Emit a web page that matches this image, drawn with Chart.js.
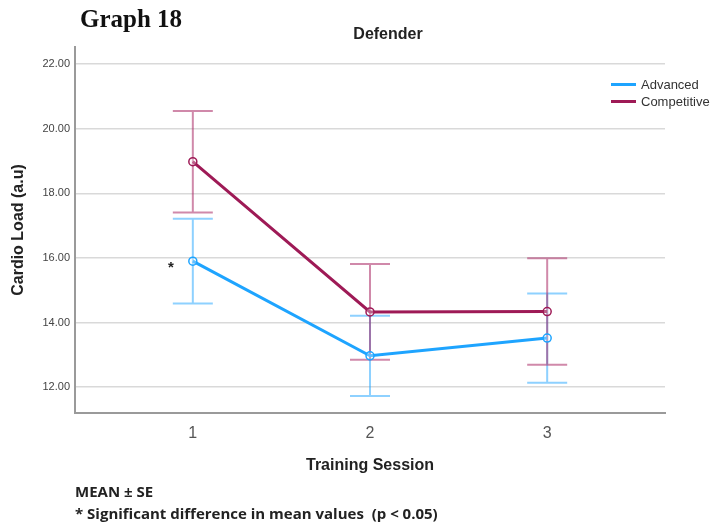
<!DOCTYPE html>
<html lang="en">
<head>
<meta charset="UTF-8">
<title>Graph 18 - Defender</title>
<script src="https://cdn.jsdelivr.net/npm/chart.js@4.4.0/dist/chart.umd.min.js"></script>
<style>
  body { margin: 0; background: #fff; }
  #wrap { position: relative; width: 712px; height: 523px; font-family: "Liberation Sans", Arial, sans-serif; }
  #wrap canvas { position: absolute; left: 0; top: 0; }
  .txt { position: absolute; white-space: nowrap; color: #222; }
  #graphNo { left: 80px; top: 5px; font-family: "Liberation Serif", "Times New Roman", serif; font-weight: bold; font-size: 25px; color: #111; }
  #title { left: 388px; top: 25px; transform: translateX(-50%); font-size: 16px; font-weight: bold; color: #222; }
  #legend { left: 611px; top: 76px; font-size: 13px; color: #333; }
  #legend div { height: 17px; line-height: 17px; }
  #legend span.sw { display: inline-block; width: 25px; height: 3px; vertical-align: middle; margin-right: 5px; position: relative; top: -1px; }
  .foot { left: 75px; font-family: "Open Sans", sans-serif; font-size: 15px; font-weight: bold; line-height: 20px; }
  #foot1 { top: 481px; }
  #foot2 { top: 503px; }
</style>
</head>
<body>
<div id="wrap">
  <canvas id="graphique" width="712" height="523"></canvas>
  <div class="txt" id="graphNo">Graph 18</div>
  <div class="txt" id="title">Defender</div>
  <div class="txt" id="legend"></div>
  <div class="txt foot" id="foot1">MEAN ± SE</div>
  <div class="txt foot" id="foot2">* Significant difference in mean values&nbsp; (p &lt; 0.05)</div>
</div>

<script>
// données
const sessions = [1, 2, 3];
const seriesNames = ['Advanced', 'Competitive'];
const advancedMean = [15.90, 12.97, 13.52];
const advancedSE = [1.31, 1.24, 1.38];
const competitiveMean = [18.98, 14.33, 14.34];
const competitiveSE = [1.57, 1.48, 1.65];
const yTicks = [12, 14, 16, 18, 20, 22];
const significant = [true, false, false]; // astérisque à côté du point Advanced

const colAdv = 'rgb(30,164,255)';
const colComp = 'rgb(158,26,86)';
const colAdvBar = 'rgba(30,164,255,0.5)';
const colCompBar = 'rgba(170,40,100,0.55)';

// légende HTML
const leg = document.getElementById('legend');
[colAdv, colComp].forEach((c, i) => {
  const d = document.createElement('div');
  d.innerHTML = '<span class="sw" style="background:' + c + '"></span>' + seriesNames[i];
  leg.appendChild(d);
});

// barres d'erreur (moyenne ± SE)
const errorBars = {
  id: 'errorBars',
  beforeDatasetsDraw(chart) {
    const ctx = chart.ctx;
    const xs = chart.scales.x, ys = chart.scales.y;
    const sets = [[advancedMean, advancedSE, colAdvBar], [competitiveMean, competitiveSE, colCompBar]];
    ctx.save();
    sets.forEach(([m, se, c]) => {
      ctx.strokeStyle = c;
      ctx.lineWidth = 2;
      sessions.forEach((s, i) => {
        const x = xs.getPixelForValue(s);
        const yt = ys.getPixelForValue(m[i] + se[i]);
        const yb = ys.getPixelForValue(m[i] - se[i]);
        ctx.beginPath();
        ctx.moveTo(x, yt); ctx.lineTo(x, yb);
        ctx.moveTo(x - 20, yt); ctx.lineTo(x + 20, yt);
        ctx.moveTo(x - 20, yb); ctx.lineTo(x + 20, yb);
        ctx.stroke();
      });
    });
    // astérisque
    ctx.fillStyle = '#222';
    ctx.font = 'bold 15px "Liberation Sans", Arial, sans-serif';
    ctx.textAlign = 'center';
    ctx.textBaseline = 'middle';
    sessions.forEach((s, i) => {
      if (!significant[i]) return;
      ctx.fillText('*', xs.getPixelForValue(s) - 22, ys.getPixelForValue(advancedMean[i]) + 7);
    });
    ctx.restore();
  }
};

const ctx = document.getElementById('graphique').getContext('2d');
new Chart(ctx, {
  type: 'line',
  data: {
    datasets: [
      {
        label: seriesNames[0],
        data: sessions.map((s, i) => ({ x: s, y: advancedMean[i] })),
        borderColor: colAdv,
        borderWidth: 3,
        pointRadius: 4,
        pointBorderWidth: 1.5,
        pointBackgroundColor: 'rgba(255,255,255,0.3)',
        pointBorderColor: colAdv,
        tension: 0
      },
      {
        label: seriesNames[1],
        data: sessions.map((s, i) => ({ x: s, y: competitiveMean[i] })),
        borderColor: colComp,
        borderWidth: 3,
        pointRadius: 4,
        pointBorderWidth: 1.5,
        pointBackgroundColor: 'rgba(255,255,255,0.3)',
        pointBorderColor: colComp,
        tension: 0
      }
    ]
  },
  options: {
    responsive: false,
    animation: false,
    layout: { padding: { top: 47, right: 47, left: 0, bottom: 0 } },
    plugins: {
      legend: { display: false },
      title: { display: false },
      tooltip: { enabled: false }
    },
    scales: {
      x: {
        type: 'linear',
        min: 0.335,
        max: 3.665,
        afterBuildTicks: s => { s.ticks = sessions.map(v => ({ value: v })); },
        afterFit: s => { s.height = 110; },
        grid: { display: false, drawTicks: false },
        border: { display: true, color: '#9a9a9a', width: 2 },
        ticks: { padding: 11, color: '#555', font: { size: 16 }, callback: v => String(v) },
        title: { display: true, text: 'Training Session', color: '#222', font: { size: 16, weight: '600' }, padding: { bottom: 48 } }
      },
      y: {
        min: 11.2,
        max: 22.53,
        afterBuildTicks: s => { s.ticks = yTicks.map(v => ({ value: v })); },
        afterFit: s => { s.width = 75; },
        grid: { color: '#d9d9d9', lineWidth: 1.5, drawTicks: false },
        border: { display: true, color: '#9a9a9a', width: 2 },
        ticks: { padding: 5, color: '#444', font: { size: 11 }, callback: v => v.toFixed(2) },
        title: { display: true, text: 'Cardio Load (a.u)', color: '#222', font: { size: 16, weight: '600' }, padding: { top: 9 } }
      }
    }
  },
  plugins: [errorBars]
});
</script>
</body>
</html>
